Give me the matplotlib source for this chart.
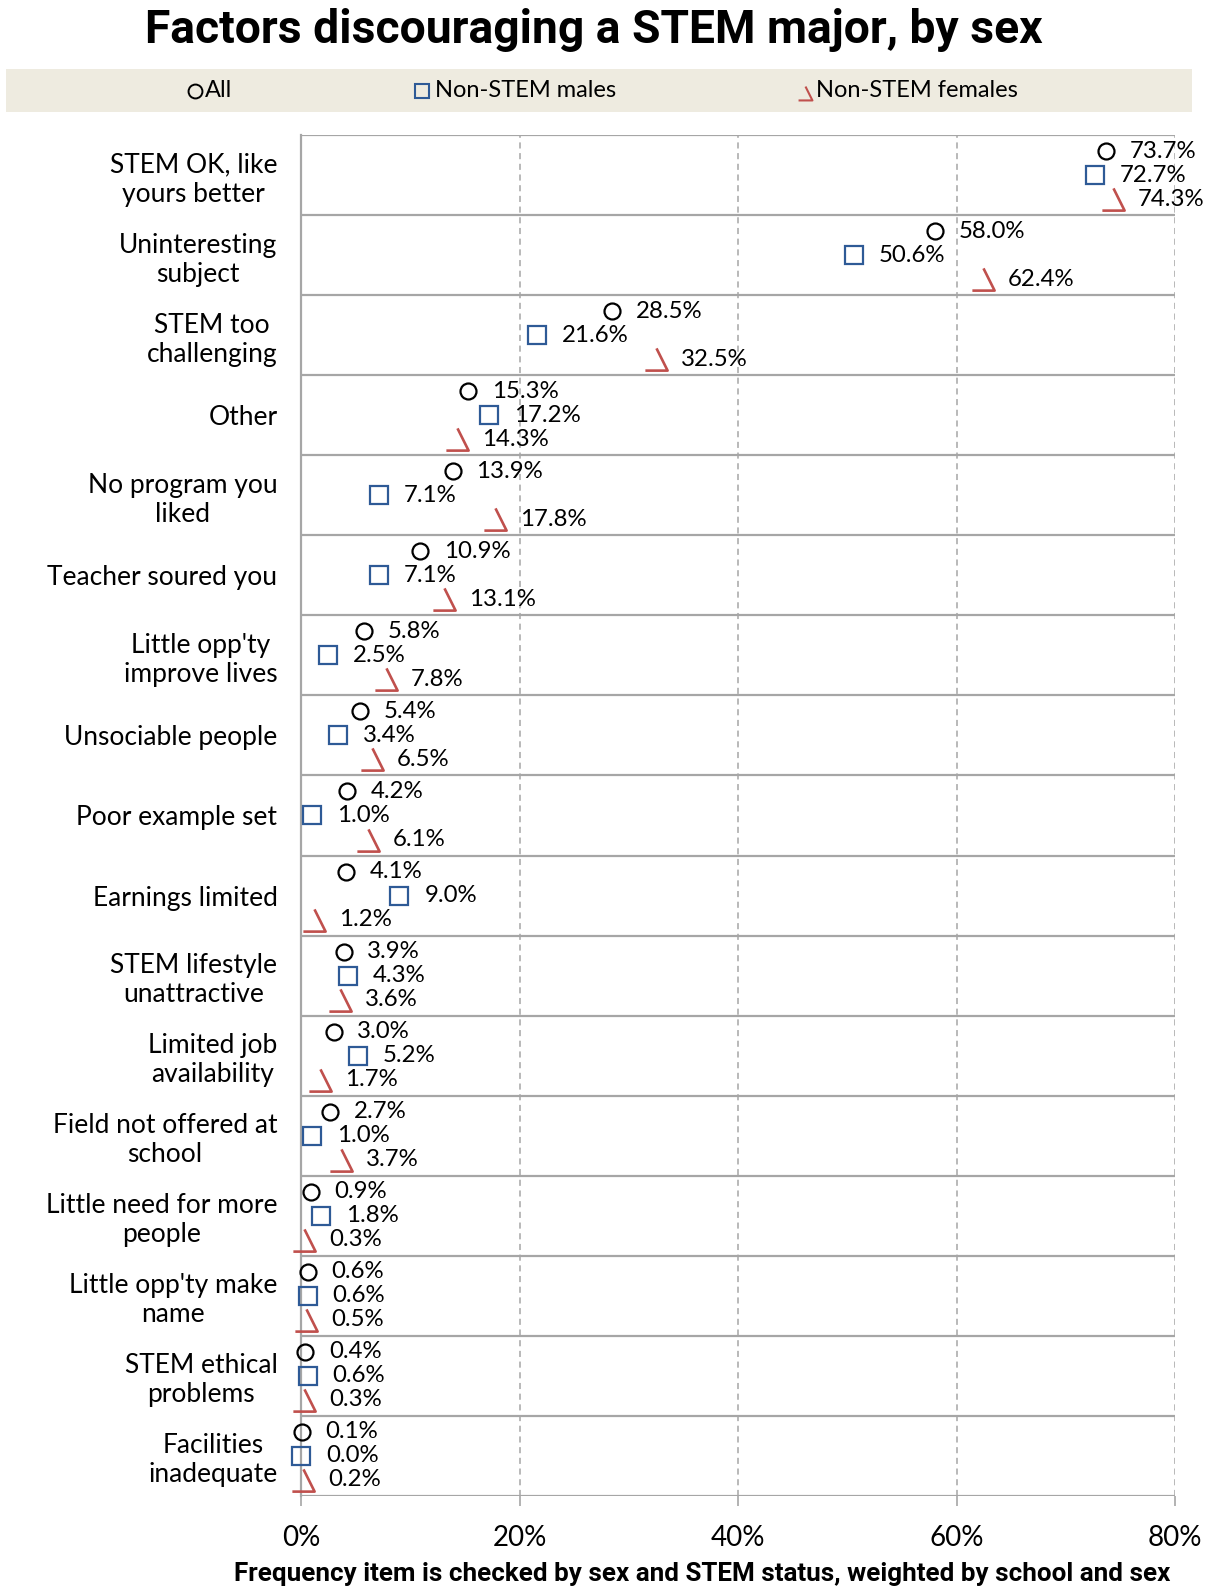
"""
Factors discouraging a STEM major, by sex - dot chart.
"""
import matplotlib
matplotlib.use("Agg")
import matplotlib.pyplot as plt
from matplotlib.path import Path
import numpy as np

# Data
categories = ["STEM OK, like\nyours better", "Uninteresting\nsubject", "STEM too\nchallenging",
              "Other", "No program you\nliked", "Teacher soured you",
              "Little opp'ty\nimprove lives", "Unsociable people", "Poor example set",
              "Earnings limited", "STEM lifestyle\nunattractive", "Limited job\navailability",
              "Field not offered at\nschool", "Little need for more\npeople",
              "Little opp'ty make\nname", "STEM ethical\nproblems", "Facilities\ninadequate"]
all_vals = [73.7, 58.0, 28.5, 15.3, 13.9, 10.9, 5.8, 5.4, 4.2, 4.1, 3.9, 3.0, 2.7, 0.9, 0.6, 0.4, 0.1]
male_vals = [72.7, 50.6, 21.6, 17.2, 7.1, 7.1, 2.5, 3.4, 1.0, 9.0, 4.3, 5.2, 1.0, 1.8, 0.6, 0.6, 0.0]
female_vals = [74.3, 62.4, 32.5, 14.3, 17.8, 13.1, 7.8, 6.5, 6.1, 1.2, 3.6, 1.7, 3.7, 0.3, 0.5, 0.3, 0.2]
x_ticks = [0, 20, 40, 60, 80]

# Styles
BLUE = "#2E5A96"
RED = "#C0504D"
GRID = "#A6A6A6"
BAND = "#EEEBE0"
TEXT_FONT = ["Lato", "DejaVu Sans"]
BOLD_FONT = ["Roboto", "DejaVu Sans"]

# open "\_" marker for females
fem_marker = Path([(0, 1), (1, -1), (-1, -1)], [Path.MOVETO, Path.LINETO, Path.LINETO])

fig = plt.figure(figsize=(12.15, 15.89), dpi=100)
ax = fig.add_axes([301 / 1215, 93 / 1589, 874 / 1215, 1361 / 1589])

n = len(categories)
rows = np.arange(n)

ax.plot(all_vals, rows + 0.2, linestyle="none", marker="o", markersize=11.5,
        markerfacecolor="none", markeredgecolor="black", markeredgewidth=1.6, zorder=5, clip_on=False)
ax.plot(male_vals, rows + 0.5, linestyle="none", marker="s", markersize=12.5,
        markerfacecolor="none", markeredgecolor=BLUE, markeredgewidth=1.6, zorder=5, clip_on=False)
ax.plot(female_vals, rows + 0.8, linestyle="none", marker=fem_marker, markersize=16,
        markerfacecolor="none", markeredgecolor=RED, markeredgewidth=1.9, zorder=5, clip_on=False)

# value labels
for vals, off, dx in [(all_vals, 0.2, 17), (male_vals, 0.5, 18), (female_vals, 0.8, 18)]:
    for i, v in enumerate(vals):
        ax.annotate("{:.1f}%".format(v), (v, i + off), xytext=(dx, 0), textcoords="offset points",
                    ha="left", va="center", fontsize=17.3, family=TEXT_FONT, zorder=6,
                    annotation_clip=False)

ax.set_xlim(0, 80)
ax.set_ylim(n, 0)

# separators and dashed verticals
for b in range(n + 1):
    ax.axhline(b, color=GRID, linewidth=1.6, zorder=1)
for t in x_ticks[1:]:
    ax.axvline(t, color=GRID, linewidth=1.1, linestyle=(0, (4, 3)), zorder=1)

for s in ["top", "right", "bottom"]:
    ax.spines[s].set_visible(False)
ax.spines["left"].set_color(GRID)
ax.spines["left"].set_linewidth(1.6)

ax.set_xticks(x_ticks)
ax.set_xticklabels(["{}%".format(t) for t in x_ticks], fontsize=20, family=TEXT_FONT)
ax.tick_params(axis="x", length=7, width=1.2, color=GRID, pad=14)
ax.set_yticks(rows + 0.5)
ax.set_yticklabels(categories, fontsize=19, family=TEXT_FONT)
ax.tick_params(axis="y", length=0, pad=17)
for lbl in ax.get_yticklabels():
    lbl.set_multialignment("center")

# title and axis caption
fig.text(0.489, 1 - 30 / 1589, "Factors discouraging a STEM major, by sex", ha="center", va="center",
         fontsize=33.3, fontweight="bold", family=BOLD_FONT)
fig.text(702 / 1215, 1 - 1574 / 1589,
         "Frequency item is checked by sex and STEM status, weighted by school and sex",
         ha="center", va="center", fontsize=18.7, fontweight="bold", family=BOLD_FONT)

# legend band
lax = fig.add_axes([6 / 1215, 1 - 112 / 1589, 1186 / 1215, 43 / 1589])
lax.set_facecolor(BAND)
lax.set_xlim(6, 1192)
lax.set_ylim(0, 1)
lax.set_xticks([])
lax.set_yticks([])
for s in lax.spines.values():
    s.set_visible(False)
lax.plot([195], [0.5], marker="o", markersize=10, markerfacecolor="none",
         markeredgecolor="black", markeredgewidth=1.4)
lax.text(205, 0.5, "All", ha="left", va="center", fontsize=17, family=TEXT_FONT)
lax.plot([422], [0.5], marker="s", markersize=10.5, markerfacecolor="none",
         markeredgecolor=BLUE, markeredgewidth=1.5)
lax.text(435, 0.5, "Non-STEM males", ha="left", va="center", fontsize=17, family=TEXT_FONT)
lax.plot([805], [0.45], marker=fem_marker, markersize=10, markerfacecolor="none",
         markeredgecolor=RED, markeredgewidth=1.5)
lax.text(816, 0.5, "Non-STEM females", ha="left", va="center", fontsize=17, family=TEXT_FONT)

fig.savefig("out.png", dpi=100)
